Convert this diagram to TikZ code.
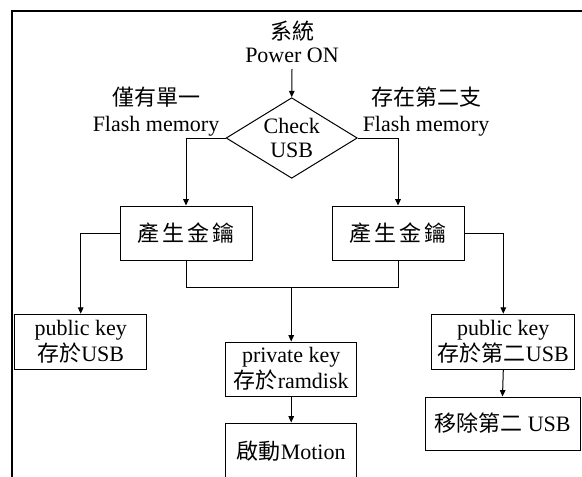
\documentclass[tikz,border=0pt]{standalone}
\usepackage{fontspec}
\setmainfont{Liberation Serif}
\newfontfamily\cjk{Noto Sans CJK TC}
\usetikzlibrary{shapes.geometric,arrows.meta,calc}
% small gap between spaced-out CJK characters
\newcommand\ks{\hspace{1.5pt}}

\begin{document}
\begin{tikzpicture}[x=0.5pt,y=-0.5pt,
  txt/.style={font=\fontsize{11}{13}\selectfont, align=center, inner sep=0pt},
  box/.style={txt, draw, line width=0.5pt, minimum width=66pt, minimum height=27pt},
  arr/.style={line width=0.5pt, -{Triangle[length=3.2pt,width=2.8pt]}},
  link/.style={line width=0.5pt}]
\useasboundingbox (0,0) rectangle (582,476);
\clip (0,0) rectangle (582,476);

% outer frame (open towards right and bottom)
\draw[line width=1pt] (11.5,500) -- (11.5,11.5) -- (600,11.5);

% start and decision
\node[txt, anchor=south, inner sep=3pt, font=\fontsize{11}{11.5}\selectfont]
  (title) at (292,69) {{\cjk 系統}\\Power ON};
\node[draw, diamond, line width=0.5pt, minimum width=65.6pt, minimum height=40.3pt,
  inner sep=0pt] (chk) at (291.7,138) {};
\node[txt, font=\fontsize{11}{12}\selectfont] (chktxt) at (chk.center) {Check\\USB};

% branch labels
\node[txt] (onlyone) at (156,112) {{\cjk 僅有單一}\\Flash memory};
\node[txt] (second) at (426,112) {{\cjk 存在第二支}\\Flash memory};

% process boxes
\node[box] (gen1) at (186,233) {\cjk 產\ks 生\ks 金\ks 鑰};
\node[box] (gen2) at (398,233) {\cjk 產\ks 生\ks 金\ks 鑰};
\node[box, minimum height=27.4pt] (pub1) at (80.7,341.6) {public key\\{\cjk 存於}USB};
\node[box, minimum width=71.4pt, minimum height=27.4pt] (pub2) at (503.3,341.6)
  {public key\\{\cjk 存於第二}USB};
\node[box, minimum width=65.5pt] (priv) at (291.2,369) {private key\\{\cjk 存於}ramdisk};
\node[box, minimum width=65.5pt, minimum height=28.5pt] (motion) at (291.2,451.5)
  {{\cjk 啟動}Motion};
\node[box, minimum width=77.5pt, minimum height=26.5pt] (rm) at (502.5,423.5)
  {{\cjk 移除第二} USB};

% connectors
\draw[arr] (title.south) -- (chk.north);
\draw[arr] (chk.west) -| (gen1.north);
\draw[arr] (chk.east) -| (gen2.north);
\draw[arr] (gen1.west) -| (pub1.north);
\draw[arr] (gen2.east) -| (pub2.north);
\path (gen1.south) ++(0,27.3) coordinate (jl);
\draw[link] (gen1.south) -- (jl) -| (gen2.south);
\draw[arr] (jl -| priv.north) -- (priv.north);
\draw[arr] (priv.south) -- (motion.north);
\draw[arr] (pub2.south) -- (rm.north);
\end{tikzpicture}
\end{document}
